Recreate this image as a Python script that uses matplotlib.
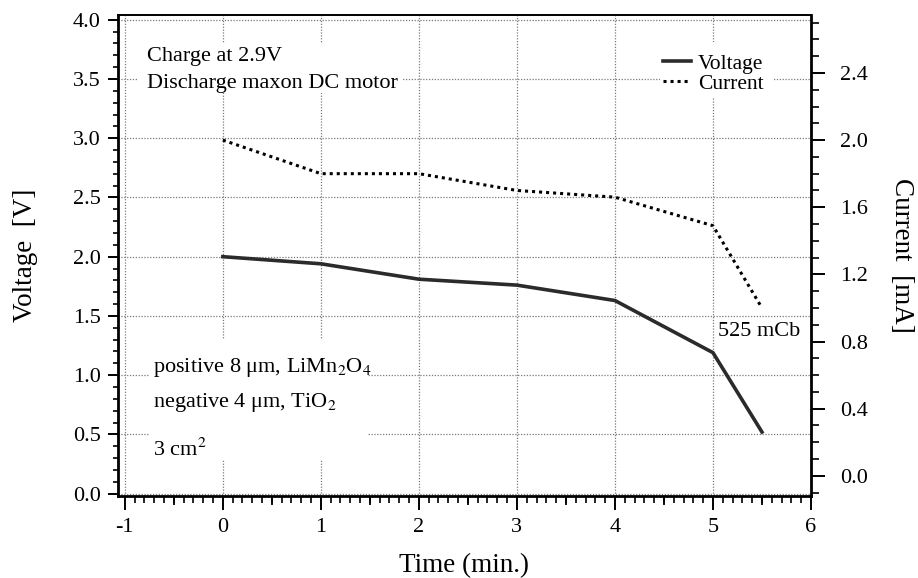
import matplotlib
matplotlib.use('Agg')
import matplotlib.pyplot as plt
from matplotlib.ticker import MultipleLocator
from matplotlib.patches import Rectangle
from matplotlib.lines import Line2D

# values
time = [0, 1, 2, 3, 4, 5, 5.5]
voltage = [2.00, 1.94, 1.81, 1.76, 1.63, 1.19, 0.52]
current = [2.00, 1.80, 1.80, 1.70, 1.66, 1.49, 1.00]
half_ticks = [-0.5, 0.5, 1.5, 2.5, 3.5, 4.5, 5.5]

plt.rcParams['font.family'] = ['Liberation Serif', 'DejaVu Serif']
plt.rcParams['mathtext.fontset'] = 'stix'
plt.rcParams['axes.unicode_minus'] = False

fig = plt.figure(figsize=(9.18, 5.78), dpi=100)
ax = fig.add_axes([0.1285, 0.1419, 0.7549, 0.8321])
ax2 = ax.twinx()

ax.set_xlim(-1.07, 6.0)
ax.set_ylim(-0.02, 4.04)
ax2.set_ylim(-0.12, 2.745)

# grid and ticks
ax.set_axisbelow(True)
ax.grid(True, color='#7a7a7a', linestyle=(0, (1, 1.3)), linewidth=0.9)
ax.xaxis.set_major_locator(MultipleLocator(1))
ax.xaxis.set_minor_locator(MultipleLocator(0.1))
ax.yaxis.set_major_locator(MultipleLocator(0.5))
ax.yaxis.set_minor_locator(MultipleLocator(0.1))
ax.yaxis.set_major_formatter('{x:.1f}')
ax2.yaxis.set_major_locator(MultipleLocator(0.4))
ax2.yaxis.set_minor_locator(MultipleLocator(0.1))
ax2.yaxis.set_major_formatter('{x:.1f}')

ax.tick_params(axis='x', which='major', direction='out', length=10, width=1.4,
               pad=6, labelsize=16)
ax.tick_params(axis='x', which='minor', direction='out', length=5, width=1.2)
ax.tick_params(axis='y', which='major', direction='out', length=7.5, width=1.4,
               pad=5, labelsize=16)
ax.tick_params(axis='y', which='minor', direction='out', length=3.8, width=1.2)
ax2.tick_params(axis='y', which='major', direction='out', length=10, width=1.4,
                pad=11, labelsize=16)
ax2.tick_params(axis='y', which='minor', direction='out', length=5.5, width=1.2)

sec = ax.secondary_xaxis('bottom')
sec.set_xticks(half_ticks)
sec.tick_params(length=6.5, width=1.3, labelbottom=False)
sec.spines['bottom'].set_visible(False)

for s in ('left', 'bottom', 'right'):
    ax2.spines[s].set_linewidth(2)
ax2.spines['top'].set_linewidth(1.4)
for s in ax.spines.values():
    s.set_visible(False)

# white blocks behind the notes (they break the grid)
for x0, y0, w, h in [(0.027, 0.838, 0.384, 0.104),
                     (0.046, 0.075, 0.315, 0.249),
                     (0.782, 0.830, 0.163, 0.114)]:
    ax.add_patch(Rectangle((x0, y0), w, h, transform=ax.transAxes,
                           facecolor='white', edgecolor='none', zorder=1))

ax.plot(time, voltage, color='#2b2b2b', linewidth=2.6, zorder=3)
ax2.plot(time, current, color='black', linewidth=2.2,
         linestyle=(0, (1, 1.3)), zorder=3)

# notes
ax.text(0.042, 0.914, 'Charge at 2.9V', transform=ax.transAxes,
        fontsize=16, va='center', zorder=4)
ax.text(0.042, 0.858, 'Discharge maxon DC motor', transform=ax.transAxes,
        fontsize=16, va='center', zorder=4)
ax.text(0.051, 0.268, 'positive 8 \u03bcm, LiMn$_2$O$_4$', transform=ax.transAxes,
        fontsize=16, va='center', zorder=4)
ax.text(0.051, 0.195, 'negative 4 \u03bcm, TiO$_2$', transform=ax.transAxes,
        fontsize=16, va='center', zorder=4)
ax.text(0.051, 0.096, '3 cm$^2$', transform=ax.transAxes,
        fontsize=16, va='center', zorder=4)
ax2.text(5.05, 0.86, '525 mCb', fontsize=16, va='center', ha='left')

handles = [Line2D([], [], color='#2b2b2b', linewidth=2.6),
           Line2D([], [], color='black', linewidth=2.2, linestyle=(0, (1, 1.3)))]
ax.legend(handles, ['Voltage', 'Current'], loc='upper left',
          bbox_to_anchor=(0.786, 0.92), frameon=False, fontsize=15.5,
          handlelength=1.3, handletextpad=0.35, labelspacing=0.0,
          borderpad=0, borderaxespad=0)

ax.set_xlabel('Time (min.)', fontsize=19.5)
ax.xaxis.set_label_coords(0.5, -0.118)
ax.set_ylabel('Voltage  [V]', fontsize=19.5)
ax.yaxis.set_label_coords(-0.115, 0.5)
ax2.set_ylabel('Current  [mA]', fontsize=19.5, rotation=270, va='bottom')
ax2.yaxis.set_label_coords(1.112, 0.5)

fig.savefig('out.png', dpi=100)
